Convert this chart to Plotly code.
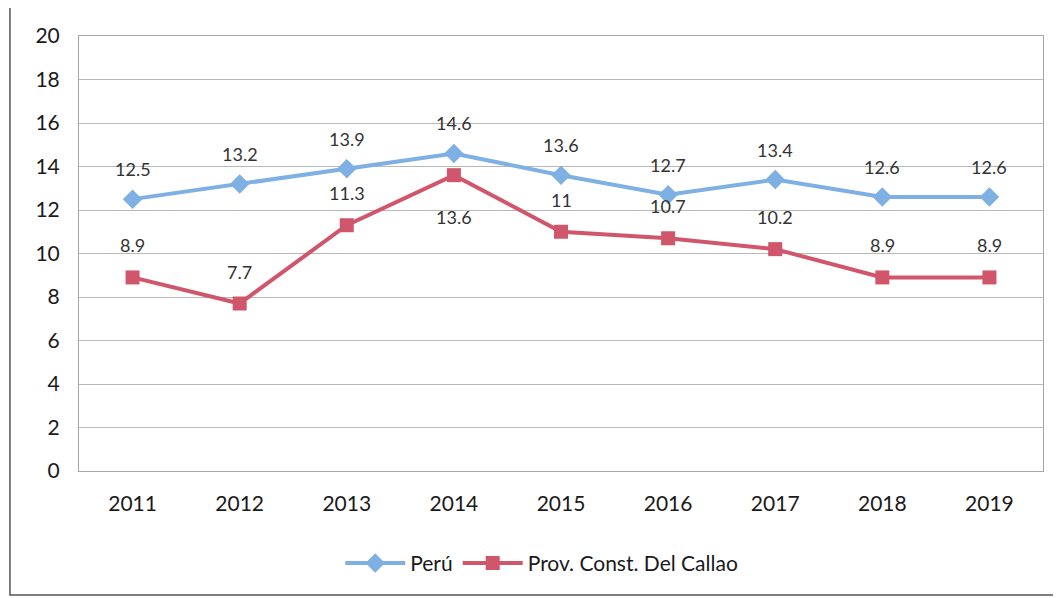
import plotly.graph_objects as go

years = ["2011", "2012", "2013", "2014", "2015", "2016", "2017", "2018", "2019"]
peru = [12.5, 13.2, 13.9, 14.6, 13.6, 12.7, 13.4, 12.6, 12.6]
callao = [8.9, 7.7, 11.3, 13.6, 11, 10.7, 10.2, 8.9, 8.9]
callao_below = ["2014"]

font_name = "Lato, 'Open Sans', sans-serif"

fig = go.Figure()
fig.add_trace(go.Scatter(
    x=years, y=peru, name="Perú", mode="lines+markers",
    line=dict(color="#7fb0e4", width=4),
    marker=dict(symbol="diamond", size=15, color="#7fb0e4"),
))
fig.add_trace(go.Scatter(
    x=years, y=callao, name="Prov. Const. Del Callao", mode="lines+markers",
    line=dict(color="#d0566c", width=4),
    marker=dict(symbol="square", size=14, color="#d0566c"),
))

# data labels; annotation x on a category axis = category index
anns = []
for i, v in enumerate(peru):
    anns.append(dict(x=i, y=v, text=str(v), showarrow=False, yshift=30,
                     font=dict(size=18, color="#333333", family=font_name)))
for i, v in enumerate(callao):
    shift = -42 if years[i] in callao_below else 32
    anns.append(dict(x=i, y=v, text=str(v), showarrow=False, yshift=shift,
                     font=dict(size=18, color="#333333", family=font_name)))

# page body has an 8px margin, so the figure is a bit smaller than the window
fig.update_layout(
    width=1053, height=590,
    margin=dict(l=71, r=18, t=28, b=127),
    paper_bgcolor="white", plot_bgcolor="white",
    font=dict(family=font_name, color="#1a1a1a"),
    annotations=anns,
    showlegend=True,
    legend=dict(orientation="h", x=0.48, xanchor="center", y=-0.165, yanchor="top",
                font=dict(size=21, color="#1a1a1a"), itemwidth=60),
    xaxis=dict(type="category", range=[-0.5, len(years) - 0.5], showgrid=False,
               showline=True, linecolor="#a6a6a6", mirror=True, ticks="",
               tickfont=dict(size=21), ticklabelstandoff=14),
    yaxis=dict(range=[0, 20], dtick=2, showgrid=True, gridcolor="#b8b8b8",
               showline=True, linecolor="#a6a6a6", mirror=True, zeroline=False,
               ticks="", tickfont=dict(size=21), ticklabelstandoff=14),
    shapes=[dict(type="rect", xref="paper", yref="paper", x0=-0.0716, x1=1.013,
                 y0=-0.285, y1=1.067, line=dict(color="#555555", width=1.5))],
)

fig.write_html("out.html")
